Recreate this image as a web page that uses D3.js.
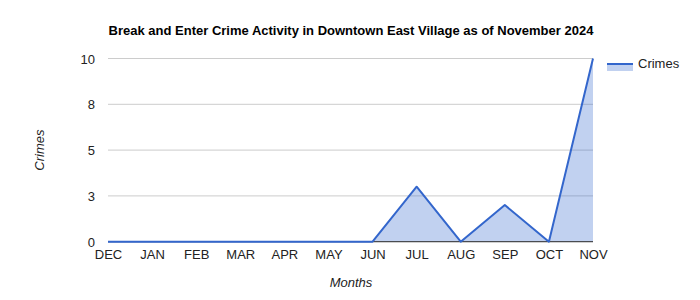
<!DOCTYPE html>
<html>
<head>
<meta charset="utf-8">
<script src="https://cdn.jsdelivr.net/npm/d3@7"></script>
<style>
  body { margin: 0; background: #fff; }
  text { font-family: Arial, "Liberation Sans", sans-serif; }
</style>
</head>
<body>
<svg width="700" height="300"></svg>
<script>
// chart data
var months = ["DEC", "JAN", "FEB", "MAR", "APR", "MAY", "JUN", "JUL", "AUG", "SEP", "OCT", "NOV"];
var crimes = [0, 0, 0, 0, 0, 0, 0, 3, 0, 2, 0, 10];
var yTicks = [0, 2.5, 5, 7.5, 10];

var svg = d3.select("svg");

//plot area edges (note: "top" is taken by window.top)
var plotLeft = 108, plotRight = 593, plotTop = 58.5, plotBottom = 241.7;

var x = d3.scalePoint()
	.domain(months)
	.range([plotLeft, plotRight]);

var y = d3.scaleLinear()
	.domain([0, 10])
	.range([plotBottom, plotTop]);

//title
svg.append("text")
	.attr("x", 351)
	.attr("y", 35)
	.attr("text-anchor", "middle")
	.style("font-size", "13px")
	.style("font-weight", "bold")
	.style("fill", "#000")
	.text("Break and Enter Crime Activity in Downtown East Village as of November 2024");

//gridlines
svg.append("g")
	.selectAll("line")
	.data(yTicks)
	.enter().append("line")
	.attr("x1", plotLeft)
	.attr("x2", plotRight)
	.attr("y1", function (d) { return y(d); })
	.attr("y2", function (d) { return y(d); })
	.style("stroke", "#cccccc")
	.style("stroke-width", 1);

//y axis labels (rounded like the original)
var yAxis = d3.axisLeft(y)
	.tickValues(yTicks)
	.tickSize(0)
	.tickPadding(13)
	.tickFormat(function (d) { return Math.round(d); });

svg.append("g")
	.attr("transform", "translate(" + plotLeft + ",0)")
	.call(yAxis)
	.call(function (g) { g.select(".domain").remove(); })
	.selectAll("text")
	.style("font-size", "13px")
	.style("fill", "#222")
	.attr("dy", "0.35em");

//x axis labels
var xAxis = d3.axisBottom(x)
	.tickSize(0)
	.tickPadding(8);

svg.append("g")
	.attr("transform", "translate(0," + plotBottom + ")")
	.call(xAxis)
	.call(function (g) { g.select(".domain").remove(); })
	.selectAll("text")
	.style("font-size", "13px")
	.style("fill", "#222");

//area and line
var area = d3.area()
	.x(function (d, i) { return x(months[i]); })
	.y0(y(0))
	.y1(function (d) { return y(d); });

var line = d3.line()
	.x(function (d, i) { return x(months[i]); })
	.y(function (d) { return y(d); });

svg.append("path")
	.datum(crimes)
	.attr("d", area)
	.style("fill", "#3366cc")
	.style("fill-opacity", 0.3);

//baseline
svg.append("line")
	.attr("x1", plotLeft)
	.attr("x2", plotRight)
	.attr("y1", y(0))
	.attr("y2", y(0))
	.style("stroke", "#333")
	.style("stroke-width", 1);

svg.append("path")
	.datum(crimes)
	.attr("d", line)
	.style("fill", "none")
	.style("stroke", "#3366cc")
	.style("stroke-width", 2)
	.style("stroke-linejoin", "round");

//axis titles
svg.append("text")
	.attr("x", 351)
	.attr("y", 287)
	.attr("text-anchor", "middle")
	.style("font-size", "13px")
	.style("font-style", "italic")
	.style("fill", "#222")
	.text("Months");

svg.append("text")
	.attr("transform", "translate(44," + ((plotTop + plotBottom) / 2) + ") rotate(-90)")
	.attr("text-anchor", "middle")
	.style("font-size", "13px")
	.style("font-style", "italic")
	.style("fill", "#222")
	.text("Crimes");

//legend
var legend = svg.append("g")
	.attr("transform", "translate(607,64)");

legend.append("rect")
	.attr("x", 0)
	.attr("y", 0)
	.attr("width", 26)
	.attr("height", 7)
	.style("fill", "#3366cc")
	.style("fill-opacity", 0.3);

legend.append("line")
	.attr("x1", 0)
	.attr("x2", 26)
	.attr("y1", 0)
	.attr("y2", 0)
	.style("stroke", "#3366cc")
	.style("stroke-width", 2);

legend.append("text")
	.attr("x", 31)
	.attr("y", 4)
	.style("font-size", "13px")
	.style("fill", "#222")
	.text("Crimes");
</script>
</body>
</html>
